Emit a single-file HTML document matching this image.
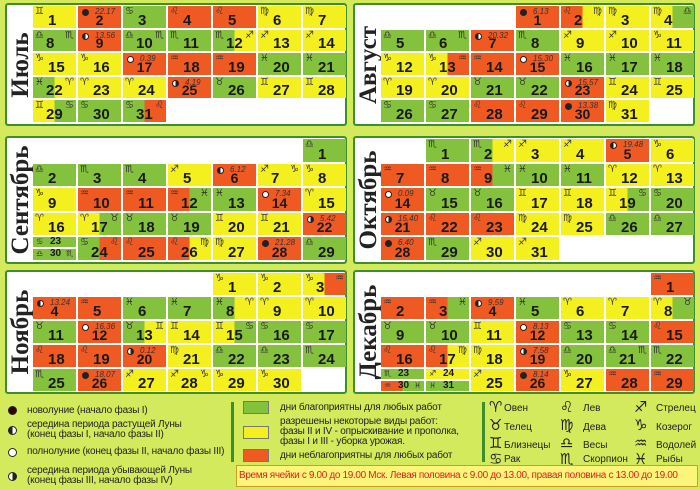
<!DOCTYPE html>
<html><head><meta charset="utf-8">
<style>
body{margin:0;width:700px;height:489px;background:#d3ea5c;font-family:"Liberation Sans","DejaVu Sans",sans-serif;position:relative;overflow:hidden}
.p{position:absolute;background:#fff;border:2px solid #3c8f2a;border-radius:3px;box-sizing:border-box}
.m{position:absolute;left:0;top:0;width:28px;height:100%}
.m span{position:absolute;left:50%;top:50%;transform:translate(-50%,-50%) rotate(-90deg);font:bold 25px "Liberation Serif",serif;color:#222;white-space:nowrap}
.c{position:absolute;overflow:hidden}
.s{position:absolute;font-family:"DejaVu Sans",sans-serif;font-size:10px;color:#333;line-height:1}
.n{position:absolute;font-weight:bold;color:#1a1a1a;line-height:1}
.t{position:absolute;font-style:italic;font-size:8px;color:#333;line-height:1}
.mo{position:absolute;width:7px;height:7px;border-radius:50%;box-sizing:border-box;border:1px solid #222}
.lg{position:absolute;font-size:10px;color:#222;line-height:10px;letter-spacing:-0.2px}
.sw{position:absolute;left:243px;width:26px;height:13px;border:1px solid #777;box-sizing:border-box}
.zs{position:absolute;font-family:"DejaVu Sans",sans-serif;font-size:15px;color:#222;line-height:1}
.zn{position:absolute;font-size:10px;color:#222;line-height:1}
</style></head><body>
<div id="root"></div>

<div class="mo" style="left:8px;top:406px;width:9px;height:9px;background:#300"></div>
<div class="lg" style="left:27px;top:406px">новолуние (начало фазы I)</div>
<div class="mo" style="left:8px;top:426px;width:9px;height:9px;background:linear-gradient(90deg,#222 50%,#fff 50%)"></div>
<div class="lg" style="left:27px;top:420px">середина периода растущей Луны<br>(конец фазы I, начало фазы II)</div>
<div class="mo" style="left:8px;top:448px;width:9px;height:9px;background:#fff"></div>
<div class="lg" style="left:27px;top:447px">полнолуние (конец фазы II, начало фазы III)</div>
<div class="mo" style="left:8px;top:472px;width:9px;height:9px;background:linear-gradient(90deg,#fff 50%,#222 50%)"></div>
<div class="lg" style="left:27px;top:466px">середина периода убывающей Луны<br>(конец фазы III, начало фазы IV)</div>

<div style="position:absolute;left:231px;top:402px;width:3px;height:60px;background:#3c8f2a"></div>
<div class="sw" style="top:401px;background:#84c13c"></div>
<div class="lg" style="left:280px;top:403px">дни благоприятны для любых работ</div>
<div class="sw" style="top:426px;background:#f4ef1f"></div>
<div class="lg" style="left:280px;top:417px">разрешены некоторые виды работ:<br>фазы II и IV - опрыскивание и прополка,<br>фазы I и III - уборка урожая.</div>
<div class="sw" style="top:449px;background:#ef5a23"></div>
<div class="lg" style="left:280px;top:451px">дни неблагоприятны для любых работ</div>

<div style="position:absolute;left:482px;top:402px;width:3px;height:60px;background:#3c8f2a"></div>
<div class="zs" style="left:489px;top:400px">♈</div><div class="zn" style="left:504px;top:404px">Овен</div>
<div class="zs" style="left:489px;top:418px">♉</div><div class="zn" style="left:504px;top:423px">Телец</div>
<div class="zs" style="left:489px;top:436px">♊</div><div class="zn" style="left:504px;top:441px">Близнецы</div>
<div class="zs" style="left:489px;top:452px">♋</div><div class="zn" style="left:504px;top:455px">Рак</div>
<div class="zs" style="left:560px;top:400px">♌</div><div class="zn" style="left:583px;top:404px">Лев</div>
<div class="zs" style="left:560px;top:418px">♍</div><div class="zn" style="left:583px;top:423px">Дева</div>
<div class="zs" style="left:560px;top:436px">♎</div><div class="zn" style="left:583px;top:441px">Весы</div>
<div class="zs" style="left:560px;top:452px">♏</div><div class="zn" style="left:583px;top:455px">Скорпион</div>
<div class="zs" style="left:634px;top:400px">♐</div><div class="zn" style="left:656px;top:404px">Стрелец</div>
<div class="zs" style="left:634px;top:418px">♑</div><div class="zn" style="left:656px;top:423px">Козерог</div>
<div class="zs" style="left:634px;top:436px">♒</div><div class="zn" style="left:656px;top:441px">Водолей</div>
<div class="zs" style="left:634px;top:452px">♓</div><div class="zn" style="left:656px;top:455px">Рыбы</div>

<div style="position:absolute;left:236px;top:465px;width:462px;height:22px;background:#fbf57a;border:1px solid #c9a020;box-sizing:border-box;color:#e0201c;font-size:10px;line-height:20px;padding-left:2px;white-space:nowrap;letter-spacing:-0.35px;overflow:hidden">Время ячейки с 9.00 до 19.00 Мск. Левая половина с 9.00 до 13.00, правая половина с 13.00 до 19.00</div>

<script>
var C={g:"#84c13c",y:"#f4ef1f",r:"#ef5a23"};
var Z={ar:"♈",ta:"♉",ge:"♊",ca:"♋",le:"♌",vi:"♍",li:"♎",sc:"♏",sa:"♐",cp:"♑",aq:"♒",pi:"♓"};
var P=[
 {name:"Июль",x:5,y:3,h:123,pitch:23.5,start:0,d:[
 "y ge","r - - n 22.17","g ca","r le","r le","y vi","y vi",
 "g li sc","r - - f1 13.56","g li sc","g sc","g|y sc sa","y sa","y sa",
 "y cp","y cp","r - - fu 0.39","r aq","r aq","g pi","g pi",
 "g|y pi ar","y ar","y ar","r - - l 4.19","g ta","y ge","y ge",
 "y|g ge ca","g ca","g|r ca le"]},
 {name:"Август",x:353,y:3,h:123,pitch:23.5,start:3,d:[
 "r - - n 6.13","r|y le vi","y vi","y|g vi li",
 "g li","g li sc","r - - f1 20.32","g sc","y sa","y sa","y cp",
 "y cp","y|r cp aq","r aq","r - - fu 15.30","g pi","g pi","g pi",
 "y ar","y ar","g ta","g ta","r - - l 15.57","y ge","y ge",
 "g ca","g ca","r le","r le","r - - n 13.38","y vi"]},
 {name:"Сентябрь",x:5,y:136,h:128,pitch:24.5,start:6,d:[
 "g li",
 "g li","g sc","g sc","y sa","r - - f1 6.12","y sa cp","y cp",
 "y cp","r aq","r aq","r|g aq pi","g pi","r - - fu 7.34","y ar",
 "y ar","y|g ar ta","g ta","g ta","y ge","y ge","r - - l 5.42",
 "HALF g:ca:23:- g:li:30:sc","g|r ca le","r le","r|y le vi","y vi","r - - n 21.28","g li"]},
 {name:"Октябрь",x:353,y:136,h:128,pitch:24.5,start:1,d:[
 "g sc","g|y sc sa","y sa","y sa","r - - f1 19.48","y cp",
 "r aq","r aq","r|g aq pi","g pi","g pi","y ar","y ar",
 "r - - fu 0.09","g ta","g ta","y ge","y ge","y|g ge ca","g ca",
 "r - - l 15.40","r le","r le","y vi","y vi","g li","g li",
 "r - - n 6.40","g sc","y sa","y sa"]},
 {name:"Ноябрь",x:5,y:270,h:124,pitch:24,start:4,d:[
 "y cp","y cp","y|r cp aq",
 "r - - f1 13.24","r aq","g pi","g pi","g|y pi ar","y ar","y ar",
 "g ta","r - - fu 16.36","g|y ta ge","y ge","y|g ge ca","g ca","g ca",
 "r le","r le","r - - l 0.12","y vi","g li","g li","g sc",
 "g sc","r - - n 18.07","y sa","y sa cp","y cp","y cp"]},
 {name:"Декабрь",x:353,y:270,h:124,pitch:24,start:6,d:[
 "r aq",
 "r aq","r|g aq pi","r - - f1 9.59","g pi","y ar","y ar","y|g ar ta",
 "g ta","g ta","y ge","r - - fu 8.13","g ca","g ca","r le",
 "r le","r|y le vi","y vi","r - - l 7.58","g li","g li sc","g sc",
 "HALF g:sc:23:- r|g:aq:30:pi","HALF y:sa:24:- g:pi:31:-","y sa","r - - n 8.14","y cp","r aq","r aq"]}
];
function bg(c){var p=c.split("|");if(p.length==1)return C[p[0]];return "linear-gradient(90deg,"+C[p[0]]+" 50%,"+C[p[1]]+" 50%)";}
function moon(t){
 if(t=="n")return "background:#222";
 if(t=="fu")return "background:#fff";
 if(t=="f1")return "background:linear-gradient(90deg,#222 50%,#fff 50%)";
 return "background:linear-gradient(90deg,#fff 50%,#222 50%)";}
function dayNum(p,k){var n=0;for(var i=0;i<=k;i++){if(p.d[i].indexOf("HALF")==0)continue;n++;}
 var skip=[];p.d.forEach(function(x){if(x.indexOf("HALF")==0){x.split(" ").slice(1).forEach(function(a){skip.push(+a.split(":")[2]);});}});
 var avail=[];for(var d=1;d<=31;d++)if(skip.indexOf(d)<0)avail.push(d);
 return avail[n-1];}
var h="";
P.forEach(function(p){
 h+='<div class="p" style="left:'+p.x+'px;top:'+p.y+'px;width:342px;height:'+p.h+'px"><div class="m"><span>'+p.name+'</span></div>';
 function cellpos(i){return {x:26+(i%7)*45,y:1+Math.floor(i/7)*p.pitch};}
 var total=Math.ceil((p.start+p.d.length)/7)*7;
 for(var i=0;i<total;i++){
  var q=cellpos(i),w=43,hh=p.pitch-2;
  var k=i-p.start;
  if(k<0||k>=p.d.length)continue;
  var s=p.d[k].split(" ");
  if(s[0]=="HALF"){
   var hh2=(hh-2)/2;
   [s[1],s[2]].forEach(function(part,j){
    var a=part.split(":");
    h+='<div class="c" style="left:'+q.x+'px;top:'+(q.y+j*(hh2+2))+'px;width:'+w+'px;height:'+hh2+'px;background:'+bg(a[0])+'">'+
     '<span class="s" style="left:3px;top:1px;font-size:8px">'+Z[a[1]]+'</span>'+
     '<span class="n" style="left:17px;top:0px;font-size:10px">'+a[2]+'</span>'+
     (a[3]!="-"?'<span class="s" style="left:33px;top:1px;font-size:8px">'+Z[a[3]]+'</span>':'')+'</div>';
   });
   continue;
  }
  var num=dayNum(p,k);
  var inner='';
  if(s[3]){
   inner+='<span class="mo" style="left:4px;top:3px;'+moon(s[3])+'"></span><span class="t" style="left:17px;top:2px">'+s[4]+'</span>';
   inner+='<span class="n" style="left:0;width:'+w+'px;text-align:center;top:'+(hh-15)+'px;font-size:14px">'+num+'</span>';
  } else {
   inner+='<span class="s" style="left:2px;top:1px">'+Z[s[1]]+'</span>';
   if(s[2]&&s[2]!="-")inner+='<span class="s" style="right:2px;top:1px">'+Z[s[2]]+'</span>';
   inner+='<span class="n" style="left:'+(s[2]&&s[2]!="-"?13:15)+'px;top:'+(hh-15)+'px;font-size:15px">'+num+'</span>';
  }
  h+='<div class="c" style="left:'+q.x+'px;top:'+q.y+'px;width:'+w+'px;height:'+hh+'px;background:'+bg(s[0])+'">'+inner+'</div>';
 }
 h+='</div>';
});
document.getElementById("root").innerHTML=h;
</script>
</body></html>
